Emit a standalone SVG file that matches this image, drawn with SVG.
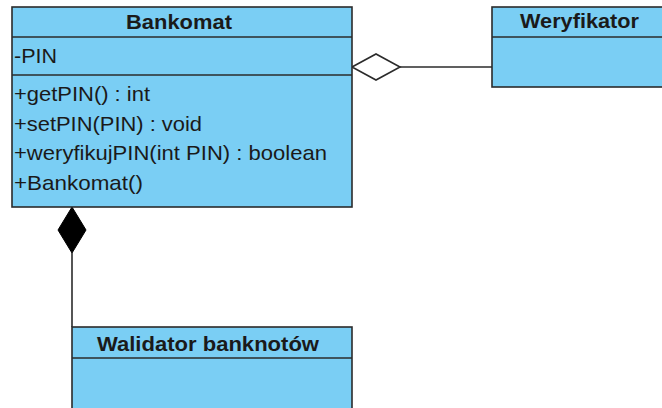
<svg xmlns="http://www.w3.org/2000/svg" width="662" height="408" viewBox="0 0 662 408">
<style>
.box{fill:#7ACEF4;stroke:#2b2b2b;stroke-width:1.6}
.sep{stroke:#2b2b2b;stroke-width:1.6}
.t{font-family:"Liberation Sans",Arial,sans-serif;font-size:21px;fill:#1a1a1a}
.h{font-family:"Liberation Sans",Arial,sans-serif;font-size:21px;font-weight:bold;fill:#1a1a1a}
.ln{fill:none;stroke:#2b2b2b;stroke-width:1.6}
</style>
<rect width="662" height="408" fill="#ffffff"/>
<g id="connectors">
<line class="ln" x1="400" y1="67" x2="492" y2="67"/>
<polygon points="352,67 376,54 400,67 376,80" fill="#ffffff" stroke="#2b2b2b" stroke-width="1.6"/>
<line class="ln" x1="72" y1="253" x2="72" y2="327"/>
<polygon points="72,207 86,230 72,253 58,230" fill="#000000" stroke="#000000" stroke-width="1"/>
</g>
<g id="Bankomat">
<rect class="box" x="12" y="7" width="340" height="200"/>
<line class="sep" x1="12" y1="37" x2="352" y2="37"/>
<line class="sep" x1="12" y1="75" x2="352" y2="75"/>
<text class="h" x="126" y="29" textLength="106" lengthAdjust="spacingAndGlyphs">Bankomat</text>
<text class="t" x="14" y="63" textLength="43" lengthAdjust="spacingAndGlyphs">-PIN</text>
<text class="t" x="14" y="101" textLength="136" lengthAdjust="spacingAndGlyphs">+getPIN() : int</text>
<text class="t" x="14" y="131" textLength="188" lengthAdjust="spacingAndGlyphs">+setPIN(PIN) : void</text>
<text class="t" x="14" y="160" textLength="313" lengthAdjust="spacingAndGlyphs">+weryfikujPIN(int PIN) : boolean</text>
<text class="t" x="14" y="190" textLength="129" lengthAdjust="spacingAndGlyphs">+Bankomat()</text>
</g>
<g id="Weryfikator">
<rect class="box" x="492" y="7" width="180" height="80"/>
<line class="sep" x1="492" y1="37" x2="672" y2="37"/>
<text class="h" x="520" y="28" textLength="119" lengthAdjust="spacingAndGlyphs">Weryfikator</text>
</g>
<g id="WalidatorBanknotow">
<rect class="box" x="72" y="327" width="280" height="90"/>
<line class="sep" x1="72" y1="358" x2="352" y2="358"/>
<text class="h" x="97" y="351" textLength="222" lengthAdjust="spacingAndGlyphs">Walidator banknotów</text>
</g>
</svg>
